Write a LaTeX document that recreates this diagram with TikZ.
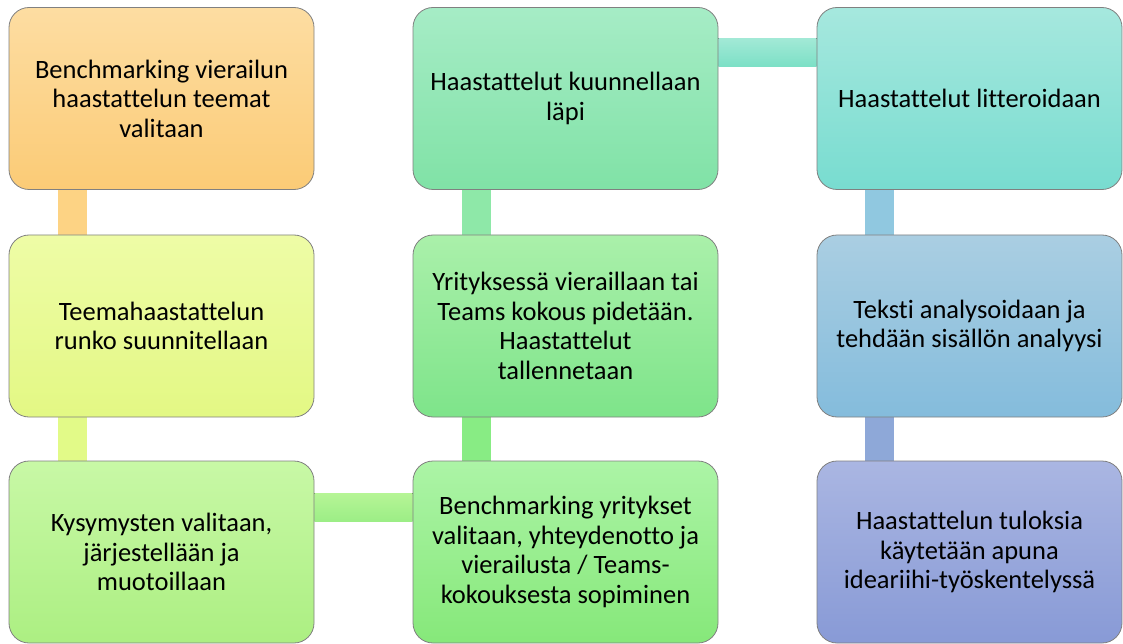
\documentclass[tikz,border=0pt]{standalone}
\usepackage{fontspec}
\setmainfont[Ligatures=NoCommon]{Carlito}
\usetikzlibrary{backgrounds}
% box gradients (top / bottom)
\definecolor{oA}{HTML}{FDDDA2}\definecolor{oB}{HTML}{FBCB76}
\definecolor{yA}{HTML}{EEFCA6}\definecolor{yB}{HTML}{E3F884}
\definecolor{lgA}{HTML}{C8F8A6}\definecolor{lgB}{HTML}{ACEF82}
\definecolor{gA}{HTML}{ACF4A6}\definecolor{gB}{HTML}{86E87A}
\definecolor{mgA}{HTML}{AAF0AA}\definecolor{mgB}{HTML}{7EE48A}
\definecolor{sgA}{HTML}{A6ECC6}\definecolor{sgB}{HTML}{80E2A6}
\definecolor{tA}{HTML}{A6E8DE}\definecolor{tB}{HTML}{78DCD0}
\definecolor{bA}{HTML}{AACEE2}\definecolor{bB}{HTML}{84BCDC}
\definecolor{pA}{HTML}{AAB6E2}\definecolor{pB}{HTML}{889AD6}
% connector colours
\definecolor{cO}{HTML}{FDD384}
\definecolor{cY}{HTML}{E2FA88}
\definecolor{cLgA}{HTML}{B6F596}\definecolor{cLgB}{HTML}{9CEE86}
\definecolor{cG}{HTML}{88EC84}
\definecolor{cMg}{HTML}{8EE8A8}
\definecolor{cTA}{HTML}{A2E9D6}\definecolor{cTB}{HTML}{7CE0C6}
\definecolor{cB}{HTML}{90C8E0}
\definecolor{cP}{HTML}{8EA8D8}
\begin{document}
\begin{tikzpicture}[x=1pt,y=-1pt,
  stepbox/.style={rectangle, rounded corners=20pt, minimum width=305pt, minimum height=182pt,
    draw=black!50, line width=0.8pt, align=center, inner sep=0pt,
    font=\fontsize{26.5}{29.5}\selectfont, text=black},
  shadebox/.style 2 args={stepbox, top color=#1, bottom color=#2}]
\useasboundingbox (0,0) rectangle (1123,644);

% the nine steps
\node[shadebox={oA}{oB}]   (s1) at (161.5,98.5) {Benchmarking vierailun\\haastattelun teemat\\valitaan};
\node[shadebox={yA}{yB}]   (s2) at (161.5,326)  {Teemahaastattelun\\runko suunnitellaan};
\node[shadebox={lgA}{lgB}] (s3) at (161.5,552)  {Kysymysten valitaan,\\järjestellään ja\\muotoillaan};
\node[shadebox={gA}{gB}]   (s4) at (565.5,552)  {Benchmarking yritykset\\valitaan, yhteydenotto ja\\vierailusta / Teams-\\kokouksesta sopiminen};
\node[shadebox={mgA}{mgB}] (s5) at (565.5,326)  {Yrityksessä vieraillaan tai\\Teams kokous pidetään.\\Haastattelut\\tallennetaan};
\node[shadebox={sgA}{sgB}] (s6) at (565.5,98.5) {Haastattelut kuunnellaan\\läpi};
\node[shadebox={tA}{tB}]   (s7) at (969.5,98.5) {Haastattelut litteroidaan};
\node[shadebox={bA}{bB}]   (s8) at (969.5,326)  {Teksti analysoidaan ja\\tehdään sisällön analyysi};
\node[shadebox={pA}{pB}]   (s9) at (969.5,552)  {Haastattelun tuloksia\\käytetään apuna\\ideariihi-työskentelyssä};

% connecting bars, drawn behind the boxes
\begin{pgfonlayer}{background}
\fill[cO]  ([xshift=-104pt]s1.south) rectangle ([xshift=-75pt]s2.north);
\fill[cY]  ([xshift=-104pt]s2.south) rectangle ([xshift=-75pt]s3.north);
\fill[top color=cLgA, bottom color=cLgB] ([yshift=59pt]s3.east) rectangle ([yshift=31pt]s4.west);
\fill[cG]  ([xshift=-104pt]s4.north) rectangle ([xshift=-75pt]s5.south);
\fill[cMg] ([xshift=-104pt]s5.north) rectangle ([xshift=-75pt]s6.south);
\fill[top color=cTA, bottom color=cTB] ([yshift=60pt]s6.east) rectangle ([yshift=32pt]s7.west);
\fill[cB]  ([xshift=-105pt]s7.south) rectangle ([xshift=-76pt]s8.north);
\fill[cP]  ([xshift=-105pt]s8.south) rectangle ([xshift=-76pt]s9.north);
\end{pgfonlayer}
\end{tikzpicture}
\end{document}
